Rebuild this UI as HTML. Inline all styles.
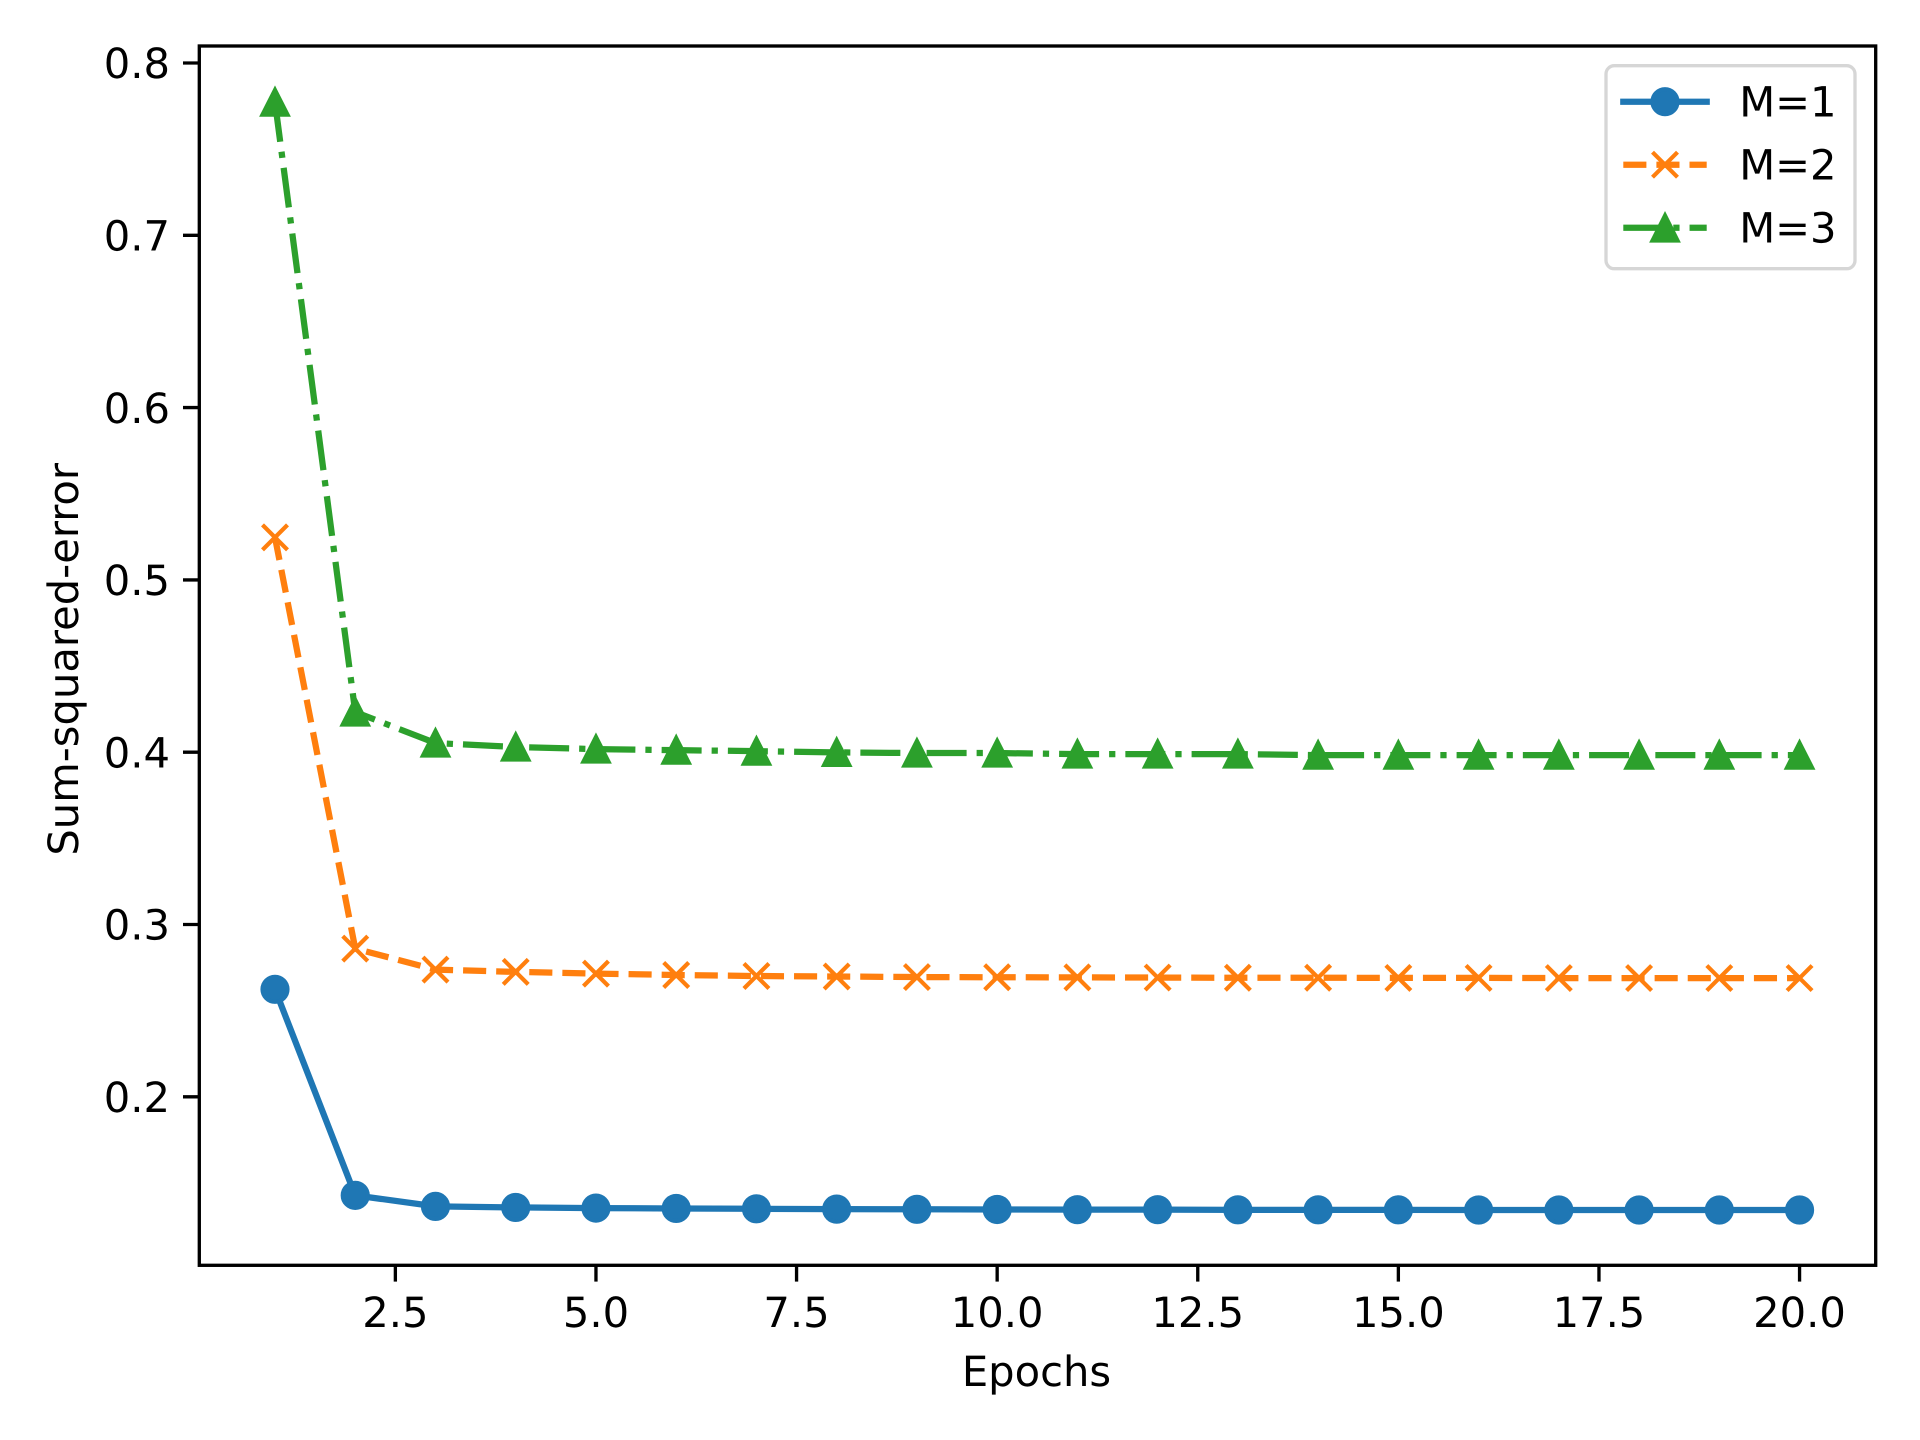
<!DOCTYPE html>
<html lang="en">
<head>
<meta charset="utf-8">
<title>Sum-squared-error by epoch</title>
<style>
html,body{margin:0;padding:0;background:#fff;width:1920px;height:1440px;overflow:hidden}
svg{display:block}
text{font-family:"DejaVu Sans","Liberation Sans",sans-serif;font-size:41.67px;fill:#000;text-rendering:geometricPrecision}
</style>
</head>
<body>
<svg id="chart" xmlns="http://www.w3.org/2000/svg" width="1920" height="1440" viewBox="0 0 1920 1440">
  <rect x="0" y="0" width="1920" height="1440" fill="#fff"/>
  <g id="ticks"></g>
  <g id="series"></g>
  <rect x="199.3" y="46" width="1676.4" height="1219.3" fill="none" stroke="#000" stroke-width="3.33"/>
  <text x="1036.5" y="1386" text-anchor="middle">Epochs</text>
  <text transform="translate(78 659.3) rotate(-90)" text-anchor="middle">Sum-squared-error</text>
  <g>
    <rect x="1606" y="65.7" width="249" height="203" rx="8.3" ry="8.3" fill="#fff" fill-opacity="0.8" stroke="#ccc" stroke-opacity="0.8" stroke-width="3.33"/>
    <g>
      <line x1="1623.3" y1="101.7" x2="1706.7" y2="101.7" stroke="#1f77b4" stroke-width="6.25" stroke-linecap="square"/>
      <circle cx="1665" cy="101.7" r="12.5" fill="#1f77b4" stroke="#1f77b4" stroke-width="4.17"/>
      <text x="1739.2" y="116.7">M=1</text>
    </g>
    <g>
      <line x1="1623.3" y1="164.7" x2="1706.7" y2="164.7" stroke="#ff7f0e" stroke-width="6.25" stroke-dasharray="23.1 10"/>
      <path d="M1652.5 152.2L1677.5 177.2M1652.5 177.2L1677.5 152.2" fill="none" stroke="#ff7f0e" stroke-width="4.17"/>
      <text x="1739.2" y="179.7">M=2</text>
    </g>
    <g>
      <line x1="1623.3" y1="227.7" x2="1706.7" y2="227.7" stroke="#2ca02c" stroke-width="6.25" stroke-dasharray="40 10 6.25 10"/>
      <path d="M1665 215.6L1677.5 240.6L1652.5 240.6Z" fill="#2ca02c" stroke="#2ca02c" stroke-width="4.17" stroke-miterlimit="10"/>
      <text x="1739.2" y="242.7">M=3</text>
    </g>
  </g>
</svg>
<script>
const epochs = [1,2,3,4,5,6,7,8,9,10,11,12,13,14,15,16,17,18,19,20];
const m1Values = [0.2624,0.1428,0.1364,0.1358,0.1354,0.1352,0.1350,0.1348,0.1347,0.1346,0.1345,0.1345,0.1344,0.1344,0.1344,0.1343,0.1343,0.1343,0.1343,0.1343];
const m2Values = [0.5247,0.2860,0.2738,0.2725,0.2715,0.2707,0.2701,0.2698,0.2695,0.2694,0.2693,0.2692,0.2691,0.2691,0.2690,0.2690,0.2689,0.2689,0.2689,0.2689];
const m3Values = [0.7773,0.4233,0.4053,0.4030,0.4018,0.4012,0.4006,0.3999,0.3995,0.3995,0.3989,0.3989,0.3989,0.3983,0.3983,0.3983,0.3983,0.3983,0.3983,0.3983];
const xTickValues = [2.5,5,7.5,10,12.5,15,17.5,20];
const xTickLabels = ["2.5","5.0","7.5","10.0","12.5","15.0","17.5","20.0"];
const yTickValues = [0.2,0.3,0.4,0.5,0.6,0.7,0.8];
const yTickLabels = ["0.2","0.3","0.4","0.5","0.6","0.7","0.8"];

const NS = "http://www.w3.org/2000/svg";
function xScale(v){ return 275 + (v - 1) * 80.24; }
function yScale(v){ return 63 + (0.8 - v) * 1723; }
function make(tag, attrs, parent){
  const el = document.createElementNS(NS, tag);
  for (const k in attrs) el.setAttribute(k, attrs[k]);
  parent.appendChild(el);
  return el;
}

const ticksG = document.getElementById("ticks");
const AXIS_BOTTOM = 1265.3, AXIS_LEFT = 199.3;
xTickValues.forEach(function(v, i){
  const x = xScale(v);
  const t = make("line", {x1:x, y1:AXIS_BOTTOM, x2:x, y2:AXIS_BOTTOM + 16.3, stroke:"#000", "stroke-width":3.33}, ticksG);
  
  
  const l = make("text", {x:x, y:1327, "text-anchor":"middle"}, ticksG);
  l.textContent = xTickLabels[i];
  
  
});
yTickValues.forEach(function(v, i){
  const y = yScale(v);
  const t = make("line", {x1:AXIS_LEFT - 16.3, y1:y, x2:AXIS_LEFT, y2:y, stroke:"#000", "stroke-width":3.33}, ticksG);
  
  
  const l = make("text", {x:170, y:y + 15.2, "text-anchor":"end"}, ticksG);
  l.textContent = yTickLabels[i];
  
  
});

const seriesG = document.getElementById("series");
function drawLine(values, color, dash){
  const pts = values.map(function(v, i){ return xScale(epochs[i]).toFixed(2) + "," + yScale(v).toFixed(2); }).join(" ");
  const attrs = {points:pts, fill:"none", stroke:color, "stroke-width":6.25, "stroke-linejoin":"round"};
  if (dash) attrs["stroke-dasharray"] = dash;
  return make("polyline", attrs, seriesG);
}

const l1 = drawLine(m1Values, "#1f77b4", null);


m1Values.forEach(function(v, i){
  const c = make("circle", {cx:xScale(epochs[i]), cy:yScale(v), r:12.5, fill:"#1f77b4", stroke:"#1f77b4", "stroke-width":4.17}, seriesG);
  
  
});

const l2 = drawLine(m2Values, "#ff7f0e", "23.1 10");


m2Values.forEach(function(v, i){
  const x = xScale(epochs[i]), y = yScale(v), s = 12.5;
  const d = "M" + (x-s) + " " + (y-s) + "L" + (x+s) + " " + (y+s) + "M" + (x-s) + " " + (y+s) + "L" + (x+s) + " " + (y-s);
  const p = make("path", {d:d, fill:"none", stroke:"#ff7f0e", "stroke-width":4.17}, seriesG);
  
  
});

const l3 = drawLine(m3Values, "#2ca02c", "40 10 6.25 10");


m3Values.forEach(function(v, i){
  const x = xScale(epochs[i]), y = yScale(v), s = 12.5;
  const d = "M" + x + " " + (y-s+0.4) + "L" + (x+s) + " " + (y+s) + "L" + (x-s) + " " + (y+s) + "Z";
  const p = make("path", {d:d, fill:"#2ca02c", stroke:"#2ca02c", "stroke-width":4.17, "stroke-miterlimit":10}, seriesG);
  
  
});
</script>
</body>
</html>
